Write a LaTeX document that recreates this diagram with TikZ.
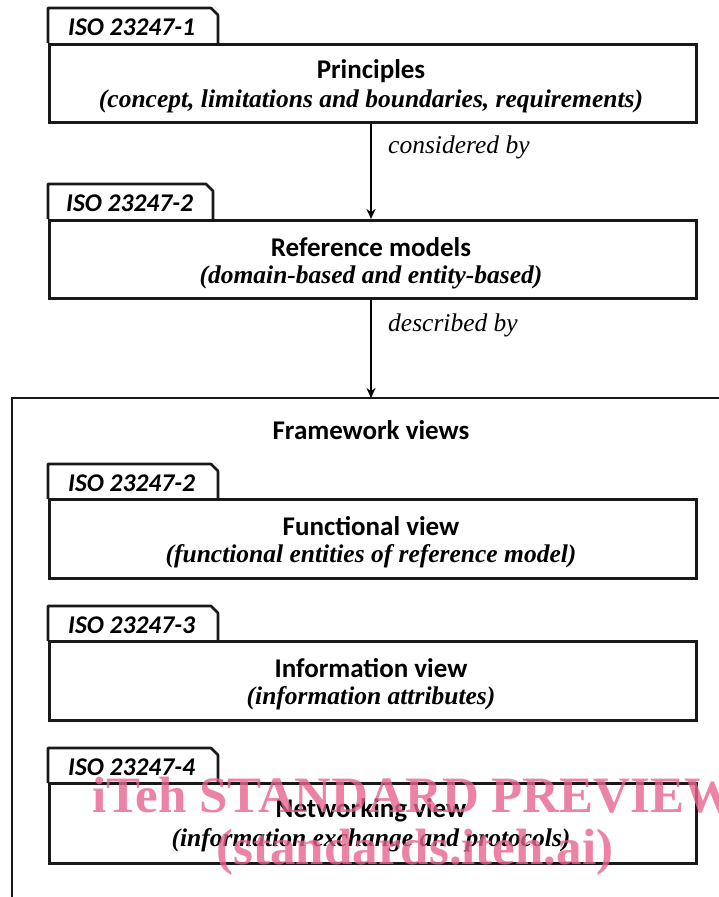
\documentclass[tikz,border=0pt]{standalone}
\usepackage{fontspec}
\setmainfont{Liberation Serif}
\newfontfamily\carl{Carlito}
\usetikzlibrary{arrows.meta}
\definecolor{wm}{HTML}{E8658E}
\tikzset{
  mainbox/.style={draw=black!90, line width=2.6pt, fill=white, anchor=north west, inner sep=0pt},
  tabline/.style={draw=black!90, line width=2.6pt, line join=round},
  tablabel/.style={font=\carl\fontsize{25.5}{25.5}\selectfont\bfseries\itshape, anchor=west, inner sep=0pt},
  titletext/.style={font=\carl\fontsize{27}{27}\selectfont\bfseries, inner sep=0pt},
  subtext/.style={font=\fontsize{25.5}{25.5}\selectfont\bfseries\itshape, inner sep=0pt},
  edgelabel/.style={font=\fontsize{25.5}{25.5}\selectfont\itshape, anchor=west, inner sep=0pt},
  conn/.style={line width=1.6pt, -{Stealth[length=10pt,width=9pt]}},
  wmtext/.style={font=\fontsize{51}{51}\selectfont\bfseries, text=wm, opacity=0.8, inner sep=0pt}
}
\newcommand{\tabshape}[3]{% x0, x1, ytop
  \draw[tabline] (#1,#3+35) -- (#1,#3) -- (#2-7,#3) -- (#2,#3+7) -- (#2,#3+35);
}
\begin{document}
\begin{tikzpicture}[x=1pt,y=-1pt]
\useasboundingbox (0,0) rectangle (719,897);
% outer framework box (open to right and bottom)
\draw[line width=2.6pt, draw=black!90] (12,910) -- (12,398) -- (730,398);
\node[titletext] (fw) at (371,430) {Framework views};

% box 1
\tabshape{48}{218}{8}
\node[tablabel] (t1) at (68,27) {ISO 23247-1};
\node[mainbox, minimum width=647pt, minimum height=78pt] (b1) at (48,43) {};
\node[titletext] (b1t) at (371,71) {Principles};
\node[subtext] (b1s) at (371,101) {(concept, limitations and boundaries, requirements)};

% box 2
\tabshape{48}{213}{184}
\node[tablabel] (t2) at (66,203) {ISO 23247-2};
\node[mainbox, minimum width=647pt, minimum height=78pt] (b2) at (48,219) {};
\node[titletext] (b2t) at (371,247) {Reference models};
\node[subtext] (b2s) at (371,277) {(domain-based and entity-based)};

% box 3
\tabshape{48}{218}{464}
\node[tablabel] (t3) at (68,483) {ISO 23247-2};
\node[mainbox, minimum width=647pt, minimum height=79pt] (b3) at (48,498) {};
\node[titletext] (b3t) at (371,526) {Functional view};
\node[subtext] (b3s) at (371,556) {(functional entities of reference model)};

% box 4
\tabshape{48}{218}{606}
\node[tablabel] (t4) at (68,625) {ISO 23247-3};
\node[mainbox, minimum width=647pt, minimum height=79pt] (b4) at (48,640) {};
\node[titletext] (b4t) at (371,668) {Information view};
\node[subtext] (b4s) at (371,698) {(information attributes)};

% box 5
\tabshape{48}{218}{748}
\node[tablabel] (t5) at (68,767) {ISO 23247-4};
\node[mainbox, minimum width=647pt, minimum height=80pt] (b5) at (48,782) {};
\node[titletext] (b5t) at (371,810) {Networking view};
\node[subtext] (b5s) at (371,840) {(information exchange and protocols)};

% connectors
\coordinate (fwtop) at (371,398);
\draw[conn] (b1.south -| fwtop) -- (b2.north -| fwtop);
\draw[conn] (b2.south -| fwtop) -- (fwtop);
\node[edgelabel] (l1) at (388,147) {considered by};
\node[edgelabel] (l2) at (388,325) {described by};

% watermark
\node[wmtext, anchor=west] (wm1) at (92,795) {iTeh STANDARD PREVIEW};
\node[wmtext] (wm2) at (415,852) {(standards.iteh.ai)};
\end{tikzpicture}
\end{document}
